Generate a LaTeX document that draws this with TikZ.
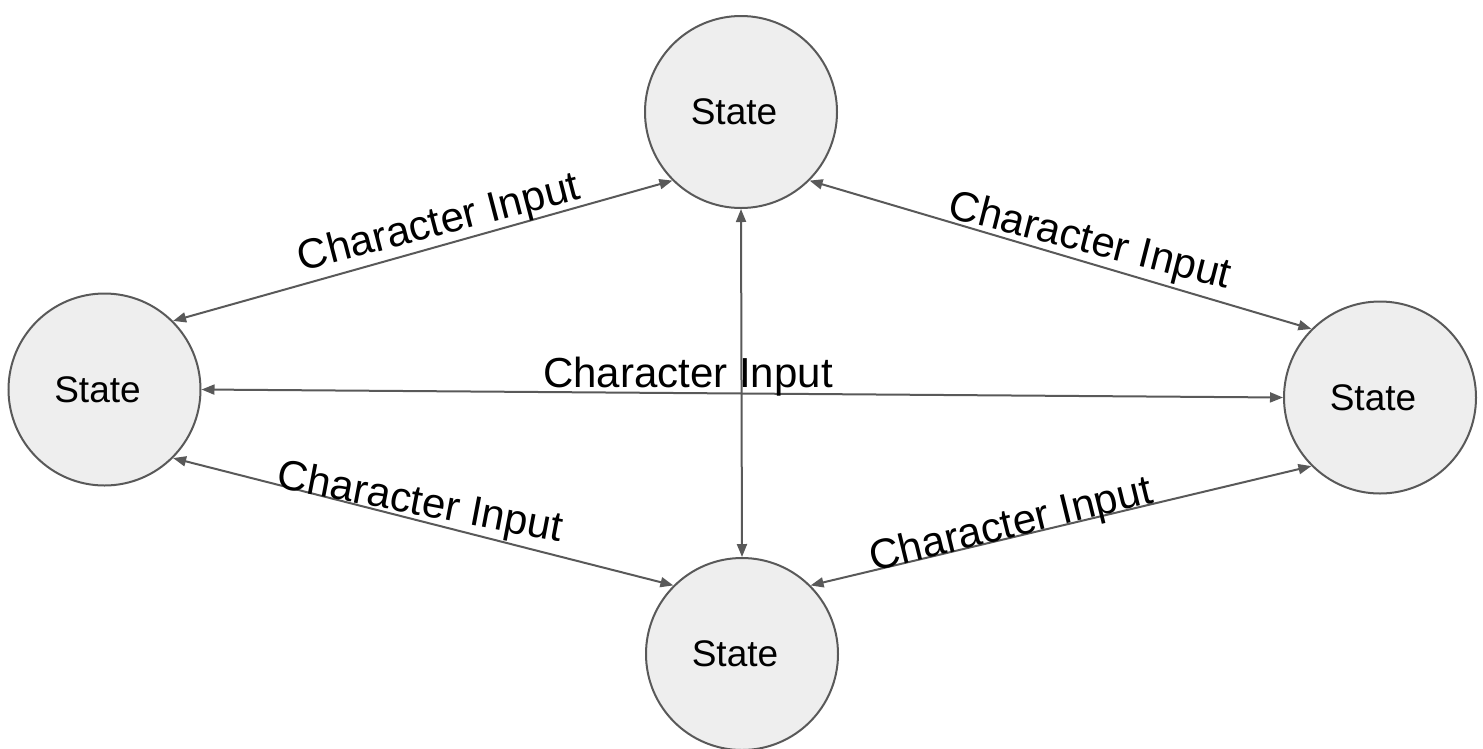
\documentclass[tikz,border=0pt]{standalone}
\usepackage{fontspec}
\setmainfont{Liberation Sans}
\usetikzlibrary{arrows.meta}
\definecolor{edgegray}{HTML}{595959}
\definecolor{statefill}{HTML}{EEEEEE}
\begin{document}
\begin{tikzpicture}[x=1pt,y=-1pt,
  statenode/.style={circle, draw=edgegray, line width=2pt, fill=statefill,
    minimum size=192pt, inner sep=0pt, font=\fontsize{37}{40}\selectfont},
  conn/.style={draw=edgegray, line width=2pt,
    {Triangle[length=13pt,width=10pt]}-{Triangle[length=13pt,width=10pt]}},
  lbl/.style={inner sep=0pt, anchor=base, font=\fontsize{42}{46}\selectfont}]
\useasboundingbox (0,0) rectangle (1483,748);
\node[statenode] (top) at (741,112) {State\kern14pt};
\node[statenode] (left) at (104.5,389.5) {State\kern14pt};
\node[statenode] (right) at (1380,397.5) {State\kern14pt};
\node[statenode] (bottom) at (742,654) {State\kern14pt};
\draw[conn] (left.north east) -- (top.south west);
\draw[conn] (top.south east) -- (right.north west);
\draw[conn] (left.east) -- (right.west);
\draw[conn] (left.south east) -- (bottom.north west);
\draw[conn] (bottom.north east) -- (right.south west);
\draw[conn] (top.south) -- (bottom.north);
\node[lbl, rotate=14.6] (l1) at (442,235) {Character Input};
\node[lbl, rotate=-14.3] (l2) at (1087,253) {Character Input};
\node[lbl] (l3) at (688,387) {Character Input};
\node[lbl, rotate=-10.8] (l4) at (418,515) {Character Input};
\node[lbl, rotate=13.8] (l5) at (1014,537) {Character Input};
\end{tikzpicture}
\end{document}
